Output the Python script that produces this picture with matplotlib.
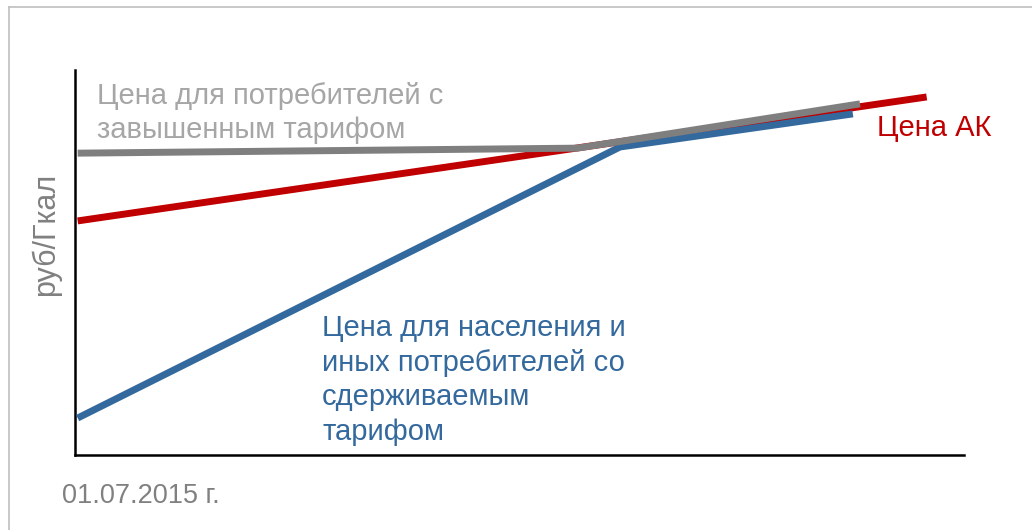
import matplotlib.pyplot as plt

plt.rcParams['font.family'] = ['Liberation Sans', 'DejaVu Sans']

# points along the period (0 = 01.07.2015), price in relative units
gray_x = [0.3, 56.5, 88.3]
gray_y = [78.4, 79.7, 91.2]
red_x = [0.3, 95.8]
red_y = [60.8, 93.0]
blue_x = [0.3, 61.3, 87.5]
blue_y = [9.6, 80.0, 88.6]

gray_label = "Цена для потребителей с\nзавышенным тарифом"
red_label = "Цена АК"
blue_label = "Цена для населения и\nиных потребителей со\nсдерживаемым\nтарифом"
y_title = "руб/Гкал"
start_label = "01.07.2015 г."

c_gray = '#7F7F7F'
c_red = '#C00000'
c_blue = '#34699D'

fig = plt.figure(figsize=(10.32, 5.30), dpi=100)
ax = fig.add_axes([75 / 1032, 1 - 455 / 530, (964 - 75) / 1032, (455 - 70) / 530])

ax.plot(red_x, red_y, color=c_red, lw=5, solid_capstyle='butt', zorder=2)
ax.plot(blue_x, blue_y, color=c_blue, lw=5, solid_capstyle='butt', zorder=3)
ax.plot(gray_x, gray_y, color=c_gray, lw=5, solid_capstyle='butt', zorder=4)

ax.set_xlim(0, 100)
ax.set_ylim(0, 100)
ax.set_xticks([])
ax.set_yticks([])
for s in ['top', 'right']:
    ax.spines[s].set_visible(False)
for s in ['left', 'bottom']:
    ax.spines[s].set_linewidth(1.8)
    ax.spines[s].set_color('black')

fs = 21
ax.text(2.5, 97.0, gray_label, color='#A6A6A6', fontsize=fs, va='top', ha='left',
        linespacing=1.3)
ax.text(90.2, 88.5, red_label, color=c_red, fontsize=fs, va='top', ha='left')
ax.text(27.8, 36.6, blue_label, color=c_blue, fontsize=fs, va='top', ha='left',
        linespacing=1.3)

fig.text(46 / 1032, 1 - 234 / 530, y_title, color='#808080', fontsize=22,
         rotation=90, ha='center', va='center')
fig.text(62 / 1032, 1 - 496 / 530, start_label, color='#808080', fontsize=19.5,
         ha='left', va='center')

# thin frame at top and left of the slide
fig.add_artist(plt.Line2D([9 / 1032, 9 / 1032], [0, 1 - 7 / 530], color='#BFBFBF', lw=1.2))
fig.add_artist(plt.Line2D([9 / 1032, 1], [1 - 7 / 530, 1 - 7 / 530], color='#BFBFBF', lw=1.2))

fig.savefig('out.png', dpi=100)
